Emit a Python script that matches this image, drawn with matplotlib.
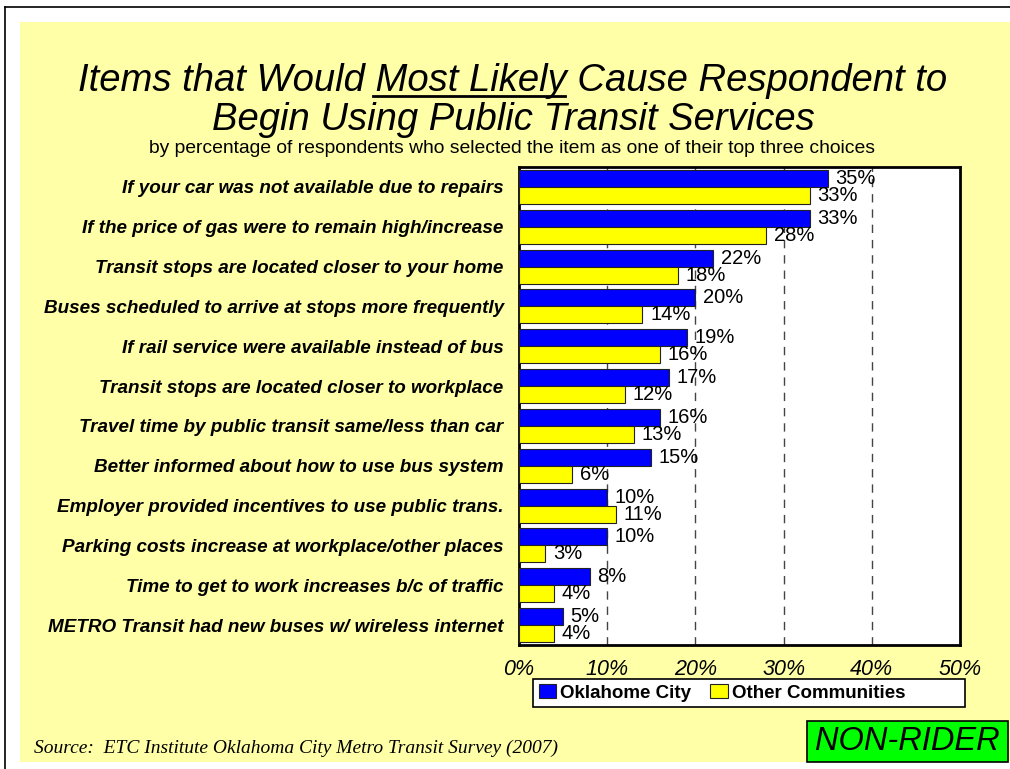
import matplotlib
matplotlib.use("Agg")
import matplotlib.pyplot as plt
import numpy as np
from matplotlib.patches import Rectangle, Patch
from matplotlib.lines import Line2D

# ---- data ----
items = [
    "If your car was not available due to repairs",
    "If the price of gas were to remain high/increase",
    "Transit stops are located closer to your home",
    "Buses scheduled to arrive at stops more frequently",
    "If rail service were available instead of bus",
    "Transit stops are located closer to workplace",
    "Travel time by public transit same/less than car",
    "Better informed about how to use bus system",
    "Employer provided incentives to use public trans.",
    "Parking costs increase at workplace/other places",
    "Time to get to work increases b/c of traffic",
    "METRO Transit had new buses w/ wireless internet",
]
okc = [35, 33, 22, 20, 19, 17, 16, 15, 10, 10, 8, 5]
other = [33, 28, 18, 14, 16, 12, 13, 6, 11, 3, 4, 4]
xticks = [0, 10, 20, 30, 40, 50]
series_names = ["Oklahome City", "Other Communities"]

W, H = 1010, 769
BG = "#FFFFA8"
BLUE = "#0000FF"
YEL = "#FFFF00"


def fx(x):
    return x / W


def fy(y):
    return 1 - y / H


plt.rcParams["font.family"] = ["Liberation Sans", "DejaVu Sans"]

fig = plt.figure(figsize=(W / 100, H / 100), dpi=100, facecolor="white")

# page frame + yellow panel
fig.add_artist(Line2D([fx(5), fx(5)], [fy(7), 0], color="black", lw=1.2))
fig.add_artist(Line2D([fx(5), 1], [fy(7), fy(7)], color="black", lw=1.2))
fig.add_artist(Rectangle((fx(20), fy(762)), fx(990), (762 - 22) / H,
                         facecolor=BG, edgecolor="none", zorder=0))

# title
tsize = 27.5
tx = fx(513)
l1 = "Items that Would Most Likely Cause Respondent to"
t1 = fig.text(tx, fy(91), l1, ha="center", va="baseline", fontsize=tsize,
              style="italic")
fig.text(tx, fy(130), "Begin Using Public Transit Services", ha="center",
         va="baseline", fontsize=tsize, style="italic")
fig.text(fx(512), fy(153), "by percentage of respondents who selected the item as one of their top three choices",
         ha="center", va="baseline", fontsize=13.9)

# underline "Most Likely"
r = fig.canvas.get_renderer()
bb = t1.get_window_extent(r)
tmp = fig.text(0, 0, "Items that Would ", fontsize=tsize, style="italic")
w0 = tmp.get_window_extent(r).width
tmp.set_text("Items that Would Most Likely")
w1 = tmp.get_window_extent(r).width
tmp.remove()
uy = fy(96)
fig.add_artist(Line2D([(bb.x0 + w0 - 3) / W, (bb.x0 + w1 - 2) / W], [uy, uy],
                      color="black", lw=2))

# axes
ax = fig.add_axes([fx(519), fy(645), (960 - 519) / W, (645 - 167) / H])
ax.set_facecolor("white")
y = np.arange(len(items))
h = 0.425
ax.barh(y - h / 2, okc, h, color=BLUE, edgecolor="#222222", lw=0.8, zorder=3)
ax.barh(y + h / 2, other, h, color=YEL, edgecolor="#222222", lw=0.8, zorder=3)
for yy, v in zip(y - h / 2, okc):
    ax.annotate(f"{v}%", (v, yy), xytext=(5.5, 0), textcoords="offset points",
                va="center", ha="left", fontsize=14.5, zorder=4)
for yy, v in zip(y + h / 2, other):
    ax.annotate(f"{v}%", (v, yy), xytext=(5.5, 0), textcoords="offset points",
                va="center", ha="left", fontsize=14.5, zorder=4)

ax.set_xlim(0, 50)
ax.set_ylim(len(items) - 0.5, -0.5)
ax.set_xticks(xticks)
ax.set_xticklabels([f"{t}%" for t in xticks], fontsize=15.5, style="italic")
ax.set_yticks(y)
ax.set_yticklabels(items, fontsize=13.6, fontweight="bold", style="italic")
ax.tick_params(axis="both", length=0)
ax.tick_params(axis="x", pad=10)
ax.tick_params(axis="y", pad=11)
for t in xticks[1:-1]:
    ax.axvline(t, color="#444444", lw=1, ls=(0, (6, 5)), zorder=1)
for s in ax.spines.values():
    s.set_linewidth(2)
    s.set_color("black")

# legend
fig.add_artist(Rectangle((fx(533), fy(707)), (965 - 533) / W, (707 - 679) / H,
                         facecolor="white", edgecolor="black", lw=1.2, zorder=2))
handles = [Patch(facecolor=BLUE, edgecolor="#222222", lw=0.8),
           Patch(facecolor=YEL, edgecolor="#222222", lw=0.8)]
fig.legend(handles, series_names, loc="center left",
           bbox_to_anchor=(fx(533), fy(693)), ncol=2, frameon=False,
           prop={"weight": "bold", "size": 13.5}, handlelength=0.95,
           handleheight=0.75, handletextpad=0.2, columnspacing=1.0,
           borderpad=0, borderaxespad=0.3)

# source
fig.text(fx(34), fy(748), "Source:  ETC Institute Oklahoma City Metro Transit Survey (2007)",
         ha="left", va="center", fontsize=14, style="italic",
         family=["Liberation Serif", "DejaVu Serif"])

# NON-RIDER tag
fig.add_artist(Rectangle((fx(807), fy(762)), (1008 - 807) / W, (762 - 721) / H,
                         facecolor="#00FF00", edgecolor="black", lw=1.2, zorder=2))
fig.text(fx(907), fy(741), "NON-RIDER", ha="center", va="center", fontsize=23.5,
         style="italic", zorder=3)

fig.savefig("out.png", dpi=100, facecolor="white")
